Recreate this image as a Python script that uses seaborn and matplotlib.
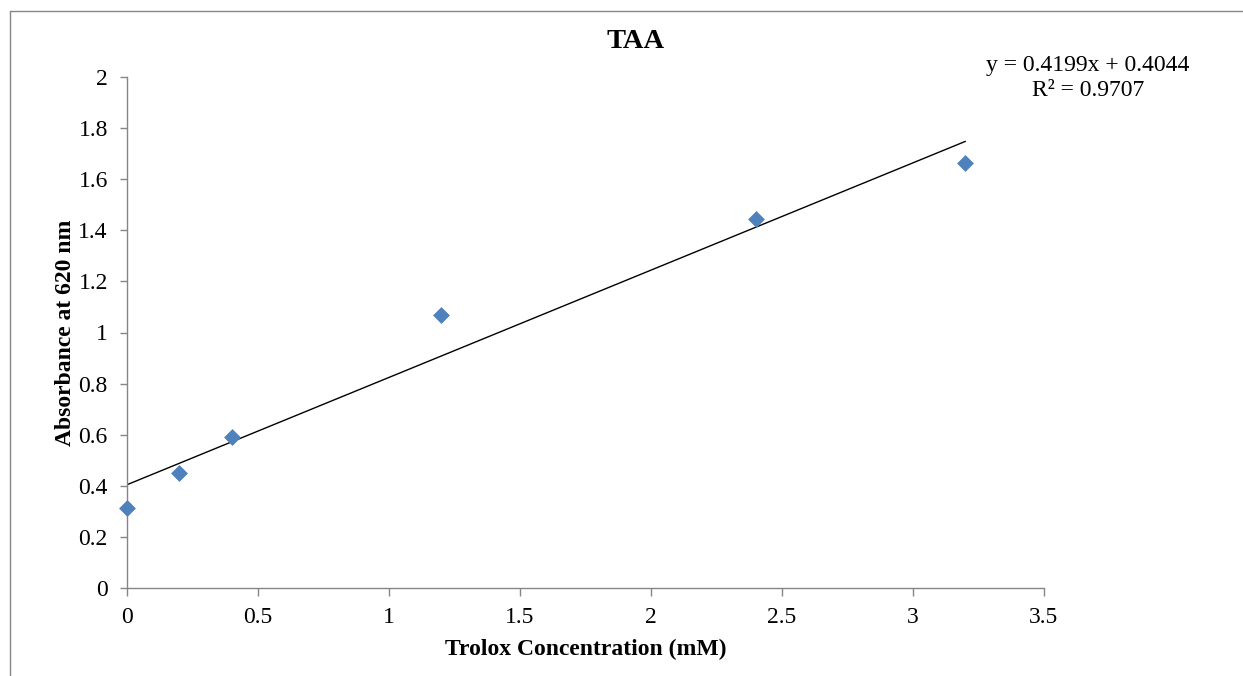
import numpy as np
import pandas as pd
import matplotlib
matplotlib.use("Agg")
import matplotlib.pyplot as plt
import seaborn as sns
from matplotlib.lines import Line2D

# Data
concentration = [0.0, 0.2, 0.4, 1.2, 2.4, 3.2]
absorbance = [0.313, 0.452, 0.590, 1.070, 1.446, 1.662]
x_ticks = [0, 0.5, 1, 1.5, 2, 2.5, 3, 3.5]
x_tick_labels = ["0", "0.5", "1", "1.5", "2", "2.5", "3", "3.5"]
y_ticks = [0, 0.2, 0.4, 0.6, 0.8, 1.0, 1.2, 1.4, 1.6, 1.8, 2.0]
y_tick_labels = ["0", "0.2", "0.4", "0.6", "0.8", "1", "1.2", "1.4", "1.6", "1.8", "2"]
title = "TAA"
x_label = "Trolox Concentration (mM)"
y_label = "Absorbance at 620 nm"
equation_text = "y = 0.4199x + 0.4044\nR² = 0.9707"

sns.set_theme(style="white")
plt.rcParams["font.family"] = ["Liberation Serif", "DejaVu Serif"]
plt.rcParams["text.color"] = "black"
plt.rcParams["axes.labelcolor"] = "black"

df = pd.DataFrame({"x": concentration, "y": absorbance})

fig = plt.figure(figsize=(12.43, 6.76), dpi=100)
ax = fig.add_axes([127 / 1243, 88 / 676, (1044 - 127) / 1243, (588 - 77) / 676])

# Trendline (linear fit)
slope, intercept = np.polyfit(df["x"], df["y"], 1)
fit_x = np.array([df["x"].min(), df["x"].max()])
fit_df = pd.DataFrame({"x": fit_x, "y": slope * fit_x + intercept})
sns.lineplot(data=fit_df, x="x", y="y", ax=ax, color="black", linewidth=1.0, zorder=2)

sns.scatterplot(data=df, x="x", y="y", ax=ax, marker="D", s=65, color="#4F81BD",
                edgecolor="#4F81BD", linewidth=0.5, zorder=3, clip_on=False)

ax.set_xlim(0, 3.5)
ax.set_ylim(0, 2)
ax.set_xticks(x_ticks)
ax.set_xticklabels(x_tick_labels)
ax.set_yticks(y_ticks)
ax.set_yticklabels(y_tick_labels)

for s in ["top", "right"]:
    ax.spines[s].set_visible(False)
for s in ["left", "bottom"]:
    ax.spines[s].set_color("#868686")
    ax.spines[s].set_linewidth(1.0)

ax.tick_params(axis="both", which="major", direction="out", width=1,
               color="#868686", labelsize=17, labelcolor="black",
               bottom=True, left=True)
ax.tick_params(axis="x", length=6, pad=7.6)
ax.tick_params(axis="y", length=5, pad=8.8)

ax.set_xlabel(x_label, fontsize=17, fontweight="bold", labelpad=8)
ax.set_ylabel(y_label, fontsize=17, fontweight="bold", labelpad=2)

fig.text(636 / 1243, 1 - 42 / 676, title, ha="center", va="center",
         fontsize=20.5, fontweight="bold")

fig.text(1088 / 1243, 1 - 78.5 / 676, equation_text, ha="center", va="center",
         fontsize=17, linespacing=1.25)

# Outer chart border (top and left visible)
fig.add_artist(Line2D([10 / 1243, 1.0], [1 - 11 / 676, 1 - 11 / 676],
                      transform=fig.transFigure, color="#868686", linewidth=1.0))
fig.add_artist(Line2D([10 / 1243, 10 / 1243], [0.0, 1 - 11 / 676],
                      transform=fig.transFigure, color="#868686", linewidth=1.0))

fig.savefig("out.png", dpi=100)
